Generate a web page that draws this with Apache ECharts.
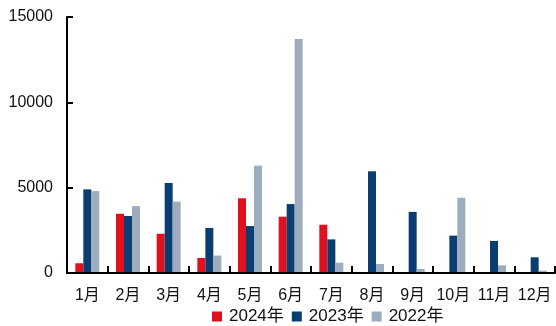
<!DOCTYPE html>
<html>
<head>
<meta charset="utf-8">
<script src="https://cdn.jsdelivr.net/npm/echarts@6/dist/echarts.min.js"></script>
<style>
  html, body { margin: 0; padding: 0; background: #fff; }
  #chart { width: 556px; height: 326px; }
</style>
</head>
<body>
<div id="chart"></div>
<script>
// Monthly values, three years
const months = ['1月','2月','3月','4月','5月','6月','7月','8月','9月','10月','11月','12月'];
const seriesNames = ['2024年', '2023年', '2022年'];
const values2024 = [570, 3470, 2300, 880, 4380, 3300, 2830, null, null, null, null, null];
const values2023 = [4900, 3340, 5270, 2640, 2750, 4040, 1970, 5960, 3580, 2190, 1880, 920];
const values2022 = [4800, 3920, 4180, 1020, 6290, 13710, 600, 530, 240, 4410, 450, 140];
const yTicks = { min: 0, max: 15000, interval: 5000 };

const colors = ['#e0101e', '#0a3e72', '#9dadbe'];
const font = 'Liberation Sans, Arial, "Noto Sans CJK SC", sans-serif';

const chart = echarts.init(document.getElementById('chart'), null, { renderer: 'canvas' });

const dataSets = [values2024, values2023, values2022];

chart.setOption({
  animation: false,
  color: colors,
  grid: { left: 67, right: 1, top: 17, bottom: 53, containLabel: false },
  legend: {
    data: seriesNames,
    left: 212,
    top: 308,
    padding: 0,
    itemWidth: 10,
    itemHeight: 10,
    itemGap: 8,
    icon: 'rect',
    textStyle: { fontFamily: font, fontSize: 17, color: '#111', padding: [0, 0, 0, 2] }
  },
  xAxis: {
    type: 'category',
    data: months,
    z: 10,
    axisLine: { lineStyle: { color: '#000', width: 2 } },
    axisTick: { show: true, inside: true, length: 7, interval: 0, lineStyle: { color: '#000', width: 2 } },
    axisLabel: { margin: 15, fontFamily: font, fontSize: 16, color: '#111', interval: 0 }
  },
  yAxis: {
    type: 'value',
    min: yTicks.min,
    max: yTicks.max,
    interval: yTicks.interval,
    z: 10,
    splitLine: { show: false },
    axisLine: { show: true, lineStyle: { color: '#000', width: 2 } },
    axisTick: { show: true, inside: true, length: 6, lineStyle: { color: '#000', width: 2 } },
    axisLabel: { margin: 14, fontFamily: font, fontSize: 16, color: '#111', formatter: v => String(v) }
  },
  series: seriesNames.map((name, i) => ({
    name,
    type: 'bar',
    data: dataSets[i],
    barWidth: 8,
    barGap: '0%',
    itemStyle: { color: colors[i] }
  }))
});
</script>
</body>
</html>
